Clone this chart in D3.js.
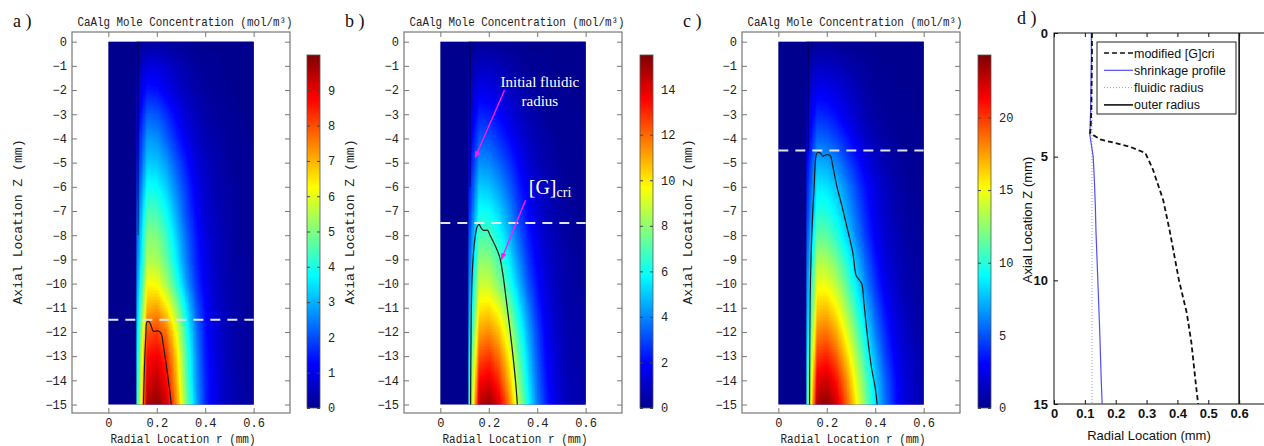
<!DOCTYPE html>
<html>
<head>
<meta charset="utf-8">
<script src="https://cdn.jsdelivr.net/npm/d3@7"></script>
<style>
body { margin: 0; background: #fff; }
svg { display: block; }
</style>
</head>
<body>
<script>
// ---------- data ----------
// radial columns (mm) and axial rows (mm) of the concentration grid
var rCols = [0.12, 0.16, 0.20, 0.24, 0.28, 0.32, 0.36, 0.40, 0.44, 0.48, 0.52, 0.56, 0.60];
var zRows = [0, -1, -2, -3, -4, -5, -6, -7, -8, -9, -10, -11, -12, -13, -14, -15];

// CaAlg mole concentration (mol/m3), one row per zRows entry
var concA = [
  [0.1, 0.2, 0.2, 0.2, 0.1, 0.1, 0.0, 0.0, 0.0, 0.0, 0.0, 0.0, 0.0],
  [0.4, 0.9, 0.9, 0.7, 0.5, 0.3, 0.2, 0.1, 0.1, 0.0, 0.0, 0.0, 0.0],
  [0.7, 1.5, 1.4, 1.1, 0.8, 0.5, 0.3, 0.2, 0.1, 0.1, 0.0, 0.0, 0.0],
  [1.0, 2.2, 2.1, 1.7, 1.2, 0.8, 0.5, 0.3, 0.2, 0.1, 0.1, 0.0, 0.0],
  [1.3, 2.8, 2.7, 2.2, 1.6, 1.1, 0.7, 0.4, 0.3, 0.2, 0.1, 0.1, 0.0],
  [1.5, 3.3, 3.2, 2.8, 2.1, 1.5, 0.9, 0.6, 0.4, 0.2, 0.1, 0.1, 0.1],
  [1.8, 3.9, 3.8, 3.3, 2.5, 1.8, 1.1, 0.7, 0.4, 0.3, 0.2, 0.1, 0.1],
  [2.1, 4.5, 4.4, 3.8, 2.9, 2.0, 1.3, 0.8, 0.5, 0.3, 0.2, 0.1, 0.1],
  [2.4, 5.1, 5.0, 4.3, 3.3, 2.3, 1.5, 0.9, 0.6, 0.4, 0.2, 0.1, 0.1],
  [2.6, 5.5, 5.4, 4.7, 3.6, 2.5, 1.6, 1.0, 0.6, 0.4, 0.2, 0.2, 0.1],
  [2.9, 6.3, 6.2, 5.4, 4.2, 2.9, 1.8, 1.1, 0.7, 0.4, 0.3, 0.2, 0.1],
  [3.2, 7.0, 7.2, 6.5, 5.2, 3.6, 2.2, 1.3, 0.8, 0.5, 0.3, 0.2, 0.1],
  [3.6, 8.0, 8.2, 7.6, 6.1, 4.2, 2.5, 1.4, 0.9, 0.5, 0.3, 0.2, 0.2],
  [3.9, 8.7, 8.9, 8.3, 6.7, 4.5, 2.7, 1.5, 0.9, 0.6, 0.3, 0.2, 0.2],
  [4.1, 9.1, 9.4, 8.7, 7.0, 4.7, 2.8, 1.6, 1.0, 0.6, 0.4, 0.2, 0.2],
  [4.4, 9.6, 9.9, 9.2, 7.4, 5.0, 3.0, 1.6, 1.0, 0.6, 0.4, 0.3, 0.2]
];
var concB = [
  [0.1, 0.2, 0.2, 0.2, 0.1, 0.1, 0.0, 0.0, 0.0, 0.0, 0.0, 0.0, 0.0],
  [0.4, 0.9, 0.9, 0.7, 0.5, 0.3, 0.2, 0.1, 0.1, 0.0, 0.0, 0.0, 0.0],
  [0.8, 1.7, 1.6, 1.3, 1.0, 0.7, 0.4, 0.3, 0.2, 0.1, 0.1, 0.0, 0.0],
  [1.1, 2.5, 2.4, 2.0, 1.5, 1.0, 0.6, 0.4, 0.2, 0.1, 0.1, 0.1, 0.0],
  [1.5, 3.3, 3.2, 2.7, 2.1, 1.5, 0.9, 0.6, 0.4, 0.2, 0.1, 0.1, 0.1],
  [1.9, 4.2, 4.1, 3.5, 2.8, 2.0, 1.3, 0.8, 0.5, 0.3, 0.2, 0.1, 0.1],
  [2.3, 5.1, 5.0, 4.4, 3.5, 2.5, 1.7, 1.1, 0.7, 0.4, 0.2, 0.2, 0.1],
  [2.7, 6.0, 5.9, 5.2, 4.2, 3.0, 2.0, 1.3, 0.8, 0.5, 0.3, 0.2, 0.1],
  [3.2, 7.0, 6.9, 6.1, 4.9, 3.6, 2.4, 1.5, 0.9, 0.6, 0.3, 0.2, 0.2],
  [3.6, 8.0, 7.9, 7.0, 5.7, 4.2, 2.8, 1.8, 1.1, 0.7, 0.4, 0.3, 0.2],
  [4.1, 9.0, 8.9, 7.9, 6.5, 4.9, 3.3, 2.1, 1.3, 0.8, 0.5, 0.3, 0.2],
  [4.5, 10.0, 10.2, 9.4, 7.8, 5.8, 4.0, 2.5, 1.5, 0.9, 0.5, 0.4, 0.3],
  [5.1, 11.2, 11.5, 10.7, 9.0, 6.7, 4.6, 2.9, 1.7, 1.0, 0.6, 0.5, 0.3],
  [5.7, 12.4, 12.8, 11.9, 10.0, 7.4, 5.1, 3.2, 1.9, 1.2, 0.6, 0.5, 0.4],
  [6.2, 13.6, 14.0, 13.0, 10.9, 8.1, 5.6, 3.5, 2.1, 1.3, 0.7, 0.6, 0.4],
  [6.7, 14.7, 15.2, 14.1, 11.9, 8.8, 6.1, 3.8, 2.3, 1.4, 0.8, 0.6, 0.5]
];
var concC = [
  [0.1, 0.3, 0.3, 0.2, 0.2, 0.1, 0.1, 0.0, 0.0, 0.0, 0.0, 0.0, 0.0],
  [0.7, 1.5, 1.4, 1.2, 0.9, 0.6, 0.4, 0.2, 0.1, 0.1, 0.0, 0.0, 0.0],
  [1.3, 2.8, 2.7, 2.2, 1.7, 1.1, 0.7, 0.4, 0.3, 0.1, 0.1, 0.1, 0.0],
  [1.8, 4.0, 3.8, 3.2, 2.4, 1.6, 1.0, 0.6, 0.4, 0.2, 0.1, 0.1, 0.1],
  [2.5, 5.5, 5.3, 4.6, 3.6, 2.5, 1.6, 1.0, 0.6, 0.4, 0.2, 0.1, 0.1],
  [3.3, 7.3, 7.1, 6.3, 5.0, 3.7, 2.5, 1.6, 1.0, 0.6, 0.4, 0.2, 0.1],
  [4.0, 8.8, 8.6, 7.7, 6.3, 4.8, 3.3, 2.2, 1.4, 0.9, 0.5, 0.3, 0.2],
  [4.5, 10.0, 9.8, 8.8, 7.2, 5.5, 3.8, 2.5, 1.6, 1.0, 0.6, 0.4, 0.3],
  [5.2, 11.5, 11.3, 10.1, 8.3, 6.3, 4.4, 2.9, 1.8, 1.2, 0.7, 0.5, 0.3],
  [6.0, 13.3, 13.1, 11.8, 9.8, 7.6, 5.3, 3.5, 2.2, 1.4, 0.9, 0.6, 0.4],
  [6.8, 15.0, 14.8, 13.5, 11.3, 8.9, 6.3, 4.2, 2.7, 1.7, 1.0, 0.7, 0.5],
  [7.4, 16.5, 16.7, 15.3, 13.0, 10.3, 7.5, 5.1, 3.3, 2.1, 1.3, 0.8, 0.6],
  [8.2, 18.2, 18.6, 17.2, 14.7, 11.8, 8.8, 6.1, 4.0, 2.5, 1.6, 1.0, 0.7],
  [9.1, 20.1, 20.6, 19.1, 16.4, 13.3, 10.0, 7.1, 4.7, 3.0, 1.9, 1.2, 0.8],
  [9.9, 22.0, 22.5, 20.9, 18.0, 14.6, 11.2, 8.0, 5.4, 3.4, 2.1, 1.4, 0.9],
  [10.6, 23.5, 24.0, 22.3, 19.2, 15.6, 12.0, 8.6, 5.8, 3.6, 2.2, 1.4, 1.0]
];

// [G]cri contour lines, [r, z]
var contourA = [[0.145,-15],[0.149,-13.5],[0.155,-12.1],[0.159,-11.6],[0.166,-11.55],[0.175,-11.7],[0.186,-11.97],
  [0.207,-11.96],[0.218,-12.07],[0.227,-12.55],[0.241,-13.5],[0.252,-14.3],[0.26,-15]];
var contourB = [[0.125,-15],[0.127,-12],[0.132,-9.5],[0.142,-8.2],[0.152,-7.65],[0.160,-7.55],[0.168,-7.7],[0.178,-7.8],
  [0.195,-7.8],[0.205,-8.0],[0.225,-8.4],[0.245,-8.9],[0.258,-9.6],[0.27,-10.5],[0.285,-11.7],[0.30,-13],[0.312,-14.2],[0.318,-15]];
var contourC = [[0.129,-15],[0.131,-10.8],[0.138,-8.0],[0.148,-5.95],[0.156,-4.7],[0.163,-4.57],[0.173,-4.6],[0.184,-4.73],
  [0.197,-4.68],[0.214,-4.7],[0.223,-5.05],[0.241,-5.95],[0.262,-6.77],[0.285,-7.73],[0.307,-8.7],[0.321,-9.66],[0.33,-9.8],
  [0.344,-10.0],[0.353,-10.76],[0.367,-12.1],[0.385,-13.5],[0.4,-14.3],[0.408,-15]];

var gelDepth = [-11.5, -7.5, -4.5];        // dashed white lines
var cbarMax = [10.0, 15.5, 24.3];
var cbarTicksA = [0, 1, 2, 3, 4, 5, 6, 7, 8, 9];
var cbarTicksB = [0, 2, 4, 6, 8, 10, 12, 14];
var cbarTicksC = [0, 5, 10, 15, 20];
var zTicks = [0, -1, -2, -3, -4, -5, -6, -7, -8, -9, -10, -11, -12, -13, -14, -15];
var rTicks = [0, 0.2, 0.4, 0.6];

// panel d: profiles, z (mm) down, r (mm)
var gcriZ = [0, 1, 2, 3, 3.8, 4.05, 4.3, 4.6, 4.85, 5.5, 6.76, 8, 9.2, 10, 11.3, 12.5, 14, 15];
var gcriR = [0.123, 0.123, 0.122, 0.121, 0.119, 0.117, 0.15, 0.246, 0.296, 0.32, 0.354, 0.375, 0.393, 0.405, 0.43, 0.445, 0.458, 0.467];
var shrinkZ = [0, 1, 2, 3, 3.8, 4.1, 4.6, 5, 6, 7, 8, 10, 12, 14, 15];
var shrinkR = [0.121, 0.121, 0.120, 0.119, 0.117, 0.116, 0.122, 0.127, 0.131, 0.134, 0.136, 0.142, 0.148, 0.153, 0.156];
var fluidicR = 0.123;
var outerR = 0.6;
var dXTicks = [0, 0.1, 0.2, 0.3, 0.4, 0.5, 0.6];
var dYTicks = [0, 5, 10, 15];

// jet colormap tables
var jetR = [0, 0, 0, 0, 0.5, 1, 1, 1, 0.5];
var jetG = [0, 0, 0.5, 1, 1, 1, 0.5, 0, 0];
var jetB = [0.56, 1, 1, 1, 0.5, 0, 0, 0, 0];

var jet = d3.scaleLinear()
  .domain(jetR.map(function(d, i) { return i / 8; }))
  .range(jetR.map(function(d, i) { return d3.rgb(255 * jetR[i], 255 * jetG[i], 255 * jetB[i]).toString(); }));

var svg = d3.select("body").append("svg")
  .attr("width", 1264)
  .attr("height", 446)
  .style("font-family", "'Liberation Mono', monospace");

var defs = svg.append("defs");
var filt = defs.append("filter").attr("id", "jet")
  .attr("color-interpolation-filters", "sRGB")
  .attr("x", 0).attr("y", 0).attr("width", 1).attr("height", 1);
var ct = filt.append("feComponentTransfer");
ct.append("feFuncR").attr("type", "table").attr("tableValues", jetR.join(" "));
ct.append("feFuncG").attr("type", "table").attr("tableValues", jetG.join(" "));
ct.append("feFuncB").attr("type", "table").attr("tableValues", jetB.join(" "));

var grad = defs.append("linearGradient").attr("id", "jetgrad")
  .attr("x1", 0).attr("y1", 1).attr("x2", 0).attr("y2", 0);
jetR.forEach(function(d, i) {
  grad.append("stop").attr("offset", i / 8).attr("stop-color", jet(i / 8));
});

// grayscale value image, coloured by the jet filter
function fieldImage(grid, vmax) {
  var cv = document.createElement("canvas");
  cv.width = rCols.length;
  cv.height = zRows.length;
  var ctx = cv.getContext("2d");
  var img = ctx.createImageData(cv.width, cv.height);
  grid.forEach(function(row, j) {
    row.forEach(function(v, i) {
      var g = Math.round(255 * Math.min(1, v / vmax));
      var k = 4 * (j * cv.width + i);
      img.data[k] = g; img.data[k + 1] = g; img.data[k + 2] = g; img.data[k + 3] = 255;
    });
  });
  ctx.putImageData(img, 0, 0);
  return cv.toDataURL();
}

var panels = [
  { tag: "a", left: 72, cbx: 307, grid: concA, vmax: cbarMax[0], cticks: cbarTicksA, contour: contourA, dash: gelDepth[0], lineEnd: -8 },
  { tag: "b", left: 404, cbx: 640, grid: concB, vmax: cbarMax[1], cticks: cbarTicksB, contour: contourB, dash: gelDepth[1], lineEnd: -6 },
  { tag: "c", left: 742, cbx: 978, grid: concC, vmax: cbarMax[2], cticks: cbarTicksC, contour: contourC, dash: gelDepth[2], lineEnd: -4.5 }
];

function styleAxis(sel, col) {
  sel.select(".domain").remove();
  sel.selectAll("line").attr("stroke", col);
  sel.selectAll("text").attr("fill", "#222").style("font-size", "12px")
    .style("font-family", "'Liberation Mono', monospace");
}

panels.forEach(function(p) {
  var x = d3.scaleLinear().domain([-0.15, 0.75]).range([p.left, p.left + 218]);
  var y = d3.scaleLinear().domain([0.4, -15.35]).range([32, 413]);
  var g = svg.append("g");

  defs.append("clipPath").attr("id", "clip" + p.tag).append("rect")
    .attr("x", x(0.116)).attr("y", y(0))
    .attr("width", x(0.6) - x(0.116)).attr("height", y(-15) - y(0));

  g.append("rect")
    .attr("x", x(0)).attr("y", y(0))
    .attr("width", x(0.6) - x(0)).attr("height", y(-15) - y(0))
    .attr("fill", jet(0));

  var half = (rCols[1] - rCols[0]) / 2;
  g.append("image")
    .attr("href", fieldImage(p.grid, p.vmax))
    .attr("x", x(rCols[0] - half))
    .attr("y", y(zRows[0] + 0.5))
    .attr("width", x(rCols[rCols.length - 1] + half) - x(rCols[0] - half))
    .attr("height", y(zRows[zRows.length - 1] - 0.5) - y(zRows[0] + 0.5))
    .attr("preserveAspectRatio", "none")
    .attr("filter", "url(#jet)")
    .attr("clip-path", "url(#clip" + p.tag + ")");

  // initial fluidic radius
  g.append("line")
    .attr("x1", x(0.123)).attr("x2", x(0.123))
    .attr("y1", y(0)).attr("y2", y(p.lineEnd))
    .attr("stroke", "#000").attr("stroke-opacity", 0.6).attr("stroke-width", 1);

  g.append("path")
    .datum(p.contour)
    .attr("fill", "none")
    .attr("stroke", "#1a1a1a")
    .attr("stroke-width", 1.2)
    .attr("d", d3.line().x(function(d) { return x(d[0]); }).y(function(d) { return y(d[1]); }).curve(d3.curveCatmullRom));

  g.append("line")
    .attr("x1", x(0)).attr("x2", x(0.6))
    .attr("y1", y(p.dash)).attr("y2", y(p.dash))
    .attr("stroke", "#e4e4f2").attr("stroke-width", 2).attr("stroke-dasharray", "10,7");

  // frame and ticks
  g.append("rect")
    .attr("x", p.left).attr("y", 32).attr("width", 218).attr("height", 381)
    .attr("fill", "none").attr("stroke", "#777").attr("stroke-width", 1.2);

  g.append("g").attr("transform", "translate(" + p.left + ",0)")
    .call(d3.axisLeft(y).tickValues(zTicks).tickSizeInner(-5).tickSizeOuter(0).tickPadding(5))
    .call(styleAxis, "#777");
  g.append("g").attr("transform", "translate(" + (p.left + 218) + ",0)")
    .call(d3.axisRight(y).tickValues(zTicks).tickSizeInner(-5).tickSizeOuter(0).tickFormat(""))
    .call(styleAxis, "#777");
  g.append("g").attr("transform", "translate(0,32)")
    .call(d3.axisTop(x).tickValues(rTicks).tickSizeInner(-5).tickSizeOuter(0).tickFormat(""))
    .call(styleAxis, "#777");
  g.append("g").attr("transform", "translate(0,413)")
    .call(d3.axisBottom(x).tickValues(rTicks).tickSizeInner(-5).tickSizeOuter(0).tickPadding(5).tickFormat(d3.format(".1~f")))
    .call(styleAxis, "#777");

  // colour bar
  var cy = d3.scaleLinear().domain([0, p.vmax]).range([408, 55]);
  g.append("rect")
    .attr("x", p.cbx).attr("y", 55).attr("width", 13).attr("height", 353)
    .attr("fill", "url(#jetgrad)").attr("stroke", "#555").attr("stroke-width", 0.8);
  g.append("g").attr("transform", "translate(" + (p.cbx + 13) + ",0)")
    .call(d3.axisRight(cy).tickValues(p.cticks).tickSizeInner(-3).tickSizeOuter(0).tickPadding(8))
    .call(styleAxis, "#444");
  g.append("g").attr("transform", "translate(" + p.cbx + ",0)")
    .call(d3.axisLeft(cy).tickValues(p.cticks).tickSizeInner(-3).tickSizeOuter(0).tickFormat(""))
    .call(styleAxis, "#444");

  // texts
  var cx = p.left + 113;
  g.append("text")
    .attr("x", cx).attr("y", 26).attr("text-anchor", "middle")
    .attr("textLength", 215).attr("lengthAdjust", "spacingAndGlyphs")
    .style("font-size", "13px").attr("fill", "#222")
    .text("CaAlg Mole Concentration (mol/m\u00b3)");
  g.append("text")
    .attr("x", cx - 2).attr("y", 443).attr("text-anchor", "middle")
    .attr("textLength", 145).attr("lengthAdjust", "spacingAndGlyphs")
    .style("font-size", "12px").attr("fill", "#222")
    .text("Radial Location r (mm)");
  g.append("text")
    .attr("transform", "translate(" + (p.left - 50) + ",222) rotate(-90)")
    .attr("text-anchor", "middle")
    .attr("textLength", 165).attr("lengthAdjust", "spacingAndGlyphs")
    .style("font-size", "13px").attr("fill", "#222")
    .text("Axial Location Z (mm)");
  g.append("text")
    .attr("x", p.left - 59).attr("y", 27)
    .style("font-family", "'Liberation Serif', serif").style("font-size", "18px").attr("fill", "#111")
    .text(p.tag + " )");
});

// annotations in panel b
(function() {
  var p = panels[1];
  var x = d3.scaleLinear().domain([-0.15, 0.75]).range([p.left, p.left + 218]);
  var y = d3.scaleLinear().domain([0.4, -15.35]).range([32, 413]);
  defs.append("marker").attr("id", "arr").attr("viewBox", "0 0 10 10")
    .attr("refX", 9).attr("refY", 5).attr("markerWidth", 7).attr("markerHeight", 7)
    .attr("orient", "auto").attr("markerUnits", "userSpaceOnUse")
    .append("path").attr("d", "M0,1 L10,5 L0,9 Z").attr("fill", "#ff1aff");
  var arrows = [[[0.265, -2.0], [0.144, -4.79]], [[0.352, -6.55], [0.252, -9.0]]];
  arrows.forEach(function(a) {
    svg.append("line")
      .attr("x1", x(a[0][0])).attr("y1", y(a[0][1]))
      .attr("x2", x(a[1][0])).attr("y2", y(a[1][1]))
      .attr("stroke", "#ff1aff").attr("stroke-width", 1.4)
      .attr("marker-end", "url(#arr)");
  });
  var serif = "'Liberation Serif', serif";
  svg.append("text").attr("x", x(0.411)).attr("y", y(-1.65) + 5).attr("text-anchor", "middle")
    .style("font-family", serif).style("font-size", "15px").attr("fill", "#fff").text("Initial fluidic");
  svg.append("text").attr("x", x(0.411)).attr("y", y(-2.45) + 5).attr("text-anchor", "middle")
    .style("font-family", serif).style("font-size", "15px").attr("fill", "#fff").text("radius");
  var t = svg.append("text").attr("x", x(0.365)).attr("y", y(-6.0) + 7)
    .style("font-family", serif).attr("fill", "#fff");
  t.append("tspan").style("font-size", "20px").text("[G]");
  t.append("tspan").style("font-size", "14px").attr("dy", 3).text("cri");
})();

// ---------- panel d ----------
(function() {
  var x = d3.scaleLinear().domain([0, 0.7]).range([1054, 1270]);
  var y = d3.scaleLinear().domain([0, 15]).range([33, 404]);
  var sans = "'Liberation Sans', Arial, sans-serif";
  var g = svg.append("g").style("font-family", sans);

  g.append("rect").attr("x", 1054).attr("y", 33).attr("width", 216).attr("height", 371)
    .attr("fill", "#fff").attr("stroke", "#111").attr("stroke-width", 1);

  function dAxis(sel) {
    sel.select(".domain").remove();
    sel.selectAll("line").attr("stroke", "#111");
    sel.selectAll("text").attr("fill", "#111").style("font-size", "13px")
      .style("font-weight", "bold").style("font-family", sans);
  }
  g.append("g").attr("transform", "translate(1054,0)")
    .call(d3.axisLeft(y).tickValues(dYTicks).tickSizeInner(-4).tickSizeOuter(0).tickPadding(6))
    .call(dAxis);
  g.append("g").attr("transform", "translate(0,33)")
    .call(d3.axisTop(x).tickValues(dXTicks).tickSizeInner(-4).tickSizeOuter(0).tickFormat(""))
    .call(dAxis);
  g.append("g").attr("transform", "translate(0,404)")
    .call(d3.axisBottom(x).tickValues(dXTicks).tickSizeInner(-4).tickSizeOuter(0).tickPadding(5).tickFormat(d3.format(".1~f")))
    .call(dAxis);

  var line = d3.line().x(function(d) { return x(d[0]); }).y(function(d) { return y(d[1]); });

  g.append("path").datum([[outerR, 0], [outerR, 15]]).attr("d", line)
    .attr("stroke", "#111").attr("stroke-width", 1.6).attr("fill", "none");
  g.append("path").datum([[fluidicR, 0], [fluidicR, 15]]).attr("d", line)
    .attr("stroke", "#9d8fe0").attr("stroke-width", 1).attr("stroke-dasharray", "1,2").attr("fill", "none");
  g.append("path").datum(shrinkZ.map(function(z, i) { return [shrinkR[i], z]; })).attr("d", line)
    .attr("stroke", "#4f4ff5").attr("stroke-width", 1.2).attr("fill", "none");
  g.append("path").datum(gcriZ.map(function(z, i) { return [gcriR[i], z]; })).attr("d", line)
    .attr("stroke", "#111").attr("stroke-width", 1.8).attr("stroke-dasharray", "5,3").attr("fill", "none");

  // legend
  var lg = g.append("g").attr("transform", "translate(1097,42)");
  lg.append("rect").attr("width", 139).attr("height", 72)
    .attr("fill", "#fff").attr("stroke", "#222").attr("stroke-width", 1);
  var items = [
    { label: "modified [G]cri", color: "#111", dash: "5,3", w: 1.6 },
    { label: "shrinkage profile", color: "#4f4ff5", dash: null, w: 1.2 },
    { label: "fluidic radius", color: "#9d8fe0", dash: "1,2", w: 1 },
    { label: "outer radius", color: "#111", dash: null, w: 1.6 }
  ];
  items.forEach(function(it, i) {
    var yy = 11 + i * 17.3;
    lg.append("line").attr("x1", 7).attr("x2", 36).attr("y1", yy).attr("y2", yy)
      .attr("stroke", it.color).attr("stroke-width", it.w).attr("stroke-dasharray", it.dash);
    lg.append("text").attr("x", 37).attr("y", yy + 4.5)
      .style("font-size", "12.5px").attr("fill", "#111").text(it.label);
  });

  g.append("text").attr("x", 1149).attr("y", 440).attr("text-anchor", "middle")
    .style("font-size", "13px").attr("fill", "#111").text("Radial Location (mm)");
  g.append("text").attr("transform", "translate(1032,220) rotate(-90)").attr("text-anchor", "middle")
    .style("font-size", "13px").attr("fill", "#111").text("Axial Location Z (mm)");
  g.append("text").attr("x", 1017).attr("y", 24)
    .style("font-family", "'Liberation Serif', serif").style("font-size", "18px").attr("fill", "#111")
    .text("d )");
})();
</script>
</body>
</html>
